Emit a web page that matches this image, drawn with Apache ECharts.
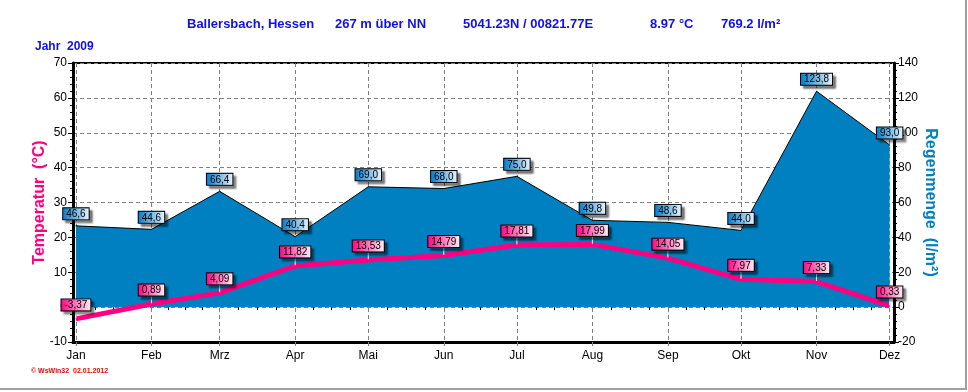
<!DOCTYPE html>
<html>
<head>
<meta charset="utf-8">
<script src="https://cdn.jsdelivr.net/npm/echarts@6/dist/echarts.min.js"></script>
<style>
html,body{margin:0;padding:0;background:#fff;}
#chart{width:968px;height:392px;}
</style>
</head>
<body>
<div id="chart"></div>
<script>
// ---- data ----
var months = ['Jan','Feb','Mrz','Apr','Mai','Jun','Jul','Aug','Sep','Okt','Nov','Dez'];
var monthDays = [0,31,59,90,120,151,181,212,243,273,304,334];
var rain = [46.6,44.6,66.4,40.4,69.0,68.0,75.0,49.8,48.6,44.0,123.8,93.0];
var temp = [-3.37,0.89,4.09,11.82,13.53,14.79,17.81,17.99,14.05,7.97,7.33,0.33];
var tempTicks = [-10,0,10,20,30,40,50,60,70];
var rainTicks = [-20,0,20,40,60,80,100,120,140];

var minorDays = [];
for (var i = 0; i < monthDays.length - 1; i++) {
  var a = monthDays[i], b = monthDays[i+1];
  for (var k = 1; k < 4; k++) minorDays.push(a + (b - a) * k / 4);
}

var chart = echarts.init(document.getElementById('chart'));
var FONT = 'Liberation Sans, Arial, sans-serif';
var G = echarts.graphic.LinearGradient;

function fmt(v, d) { return v.toFixed(d).replace('.', ','); }

var rainData = monthDays.map(function (d, i) { return [d, rain[i]]; });
var tempData = monthDays.map(function (d, i) { return [d, temp[i]]; });

var labelBase = {
  show: true,
  fontFamily: FONT,
  fontSize: 10,
  color: '#000',
  lineHeight: 10,
  borderColor: '#000',
  borderWidth: 1,
  padding: [1, 3, 0, 3],
  shadowColor: 'rgba(0,0,0,0.45)',
  shadowBlur: 2,
  shadowOffsetX: 3,
  shadowOffsetY: 3
};

var option = {
  animation: false,
  backgroundColor: '#fff',
  title: [
    {text: 'Ballersbach, Hessen', left: 187, top: 18},
    {text: '267 m über NN', left: 335, top: 18},
    {text: '5041.23N / 00821.77E', left: 463, top: 18},
    {text: '8.97 °C', left: 650, top: 18},
    {text: '769.2 l/m²', left: 721, top: 18},
    {text: 'Jahr  2009', left: 35, top: 41, textStyle: {fontSize: 12}},
    {text: '© WsWin32  02.01.2012', left: 31, top: 368, textStyle: {fontSize: 7, color: '#ff0000'}}
  ].map(function (t) {
    t.padding = 0;
    t.textStyle = Object.assign({fontFamily: FONT, fontSize: 13, fontWeight: 'bold', color: '#1010e8'}, t.textStyle || {});
    return t;
  }),
  grid: {
    left: 73, right: 74, top: 63, bottom: 50,
    show: true, borderColor: '#000', borderWidth: 2, backgroundColor: 'transparent'
  },
  xAxis: [
    {
      type: 'value', min: -1.2, max: 335.8, position: 'bottom',
      axisLine: {show: true, onZero: false, lineStyle: {color: '#000', width: 3}},
      axisTick: {show: true, customValues: monthDays, length: 4, lineStyle: {color: '#808080', type: [4, 3]}},
      axisLabel: {
        show: true, customValues: monthDays, margin: 8,
        fontFamily: FONT, fontSize: 12, color: '#000',
        formatter: function (v) { var i = monthDays.indexOf(Math.round(v)); return i >= 0 ? months[i] : ''; }
      },
      splitLine: {show: true, lineStyle: {color: '#808080', type: [4, 3], width: 1}}
    },
    {
      type: 'value', min: -1.2, max: 335.8, position: 'bottom',
      axisLine: {show: false},
      axisTick: {show: true, customValues: minorDays, length: 3, lineStyle: {color: '#000'}},
      axisLabel: {show: false},
      splitLine: {show: false}
    }
  ],
  yAxis: [
    {
      type: 'value', min: -10, max: 70, interval: 10, position: 'left',
      name: 'Temperatur  (°C)', nameLocation: 'middle', nameGap: 25, nameRotate: 90, nameMoveOverlap: false,
      nameTextStyle: {color: '#ff0080', fontFamily: FONT, fontSize: 16, fontWeight: 'bold'},
      axisLine: {show: true, onZero: false, lineStyle: {color: '#000', width: 3}},
      axisTick: {show: true, length: 5, lineStyle: {color: '#000'}},
      minorTick: {show: true, splitNumber: 5, length: 3, lineStyle: {color: '#000'}},
      axisLabel: {fontFamily: FONT, fontSize: 12, color: '#000', margin: 6,
        formatter: function (v) { return tempTicks.indexOf(v) >= 0 ? String(v) : ''; }},
      splitLine: {show: true, lineStyle: {color: '#808080', type: [4, 3], width: 1}}
    },
    {
      type: 'value', min: -20, max: 140, interval: 20, position: 'right',
      name: 'Regenmenge  (l/m²)', nameLocation: 'middle', nameGap: 28, nameRotate: -90, nameMoveOverlap: false,
      nameTextStyle: {color: '#0080c0', fontFamily: FONT, fontSize: 16, fontWeight: 'bold'},
      axisLine: {show: true, onZero: false, lineStyle: {color: '#000', width: 3}},
      axisTick: {show: true, length: 5, lineStyle: {color: '#000'}},
      minorTick: {show: true, splitNumber: 5, length: 3, lineStyle: {color: '#000'}},
      axisLabel: {fontFamily: FONT, fontSize: 12, color: '#000', margin: 4,
        formatter: function (v) { return rainTicks.indexOf(v) >= 0 ? String(v) : ''; }},
      splitLine: {show: false}
    }
  ],
  series: [
    {
      name: 'Regenmenge', type: 'line', xAxisIndex: 0, yAxisIndex: 1,
      data: rainData,
      symbol: 'circle', symbolSize: 1, showSymbol: true,
      itemStyle: {color: '#000'},
      lineStyle: {color: '#000', width: 1},
      areaStyle: {color: '#0080c0', opacity: 1},
      z: 2,
      label: Object.assign({}, labelBase, {
        position: 'top', distance: 6,
        backgroundColor: new G(0, 0, 1, 0, [{offset: 0, color: '#0078c8'}, {offset: 1, color: '#eaf6ff'}]),
        formatter: function (p) { return fmt(p.value[1], 1); }
      })
    },
    {
      name: 'Temperatur', type: 'line', xAxisIndex: 0, yAxisIndex: 0,
      data: tempData,
      symbol: 'circle', symbolSize: 1, showSymbol: true,
      itemStyle: {color: '#ff0080'},
      lineStyle: {color: '#ff0080', width: 5},
      z: 3,
      label: Object.assign({}, labelBase, {
        position: 'top', distance: 2,
        backgroundColor: new G(0, 0, 1, 0, [{offset: 0, color: '#ff0080'}, {offset: 1, color: '#fff0f8'}]),
        formatter: function (p) { return fmt(p.value[1], 2); }
      }),
      labelLayout: {dy: -6},
      labelLine: {show: true, lineStyle: {color: '#ffffff', width: 1}}
    }
  ],
  graphic: [
    {type: 'line', shape: {x1: 966, y1: 0, x2: 966, y2: 389}, style: {stroke: '#a0a0a0', lineWidth: 2}, silent: true},
    {type: 'line', shape: {x1: 0, y1: 389, x2: 967, y2: 389}, style: {stroke: '#a0a0a0', lineWidth: 2}, silent: true}
  ]
};
chart.setOption(option);
</script>
</body>
</html>
